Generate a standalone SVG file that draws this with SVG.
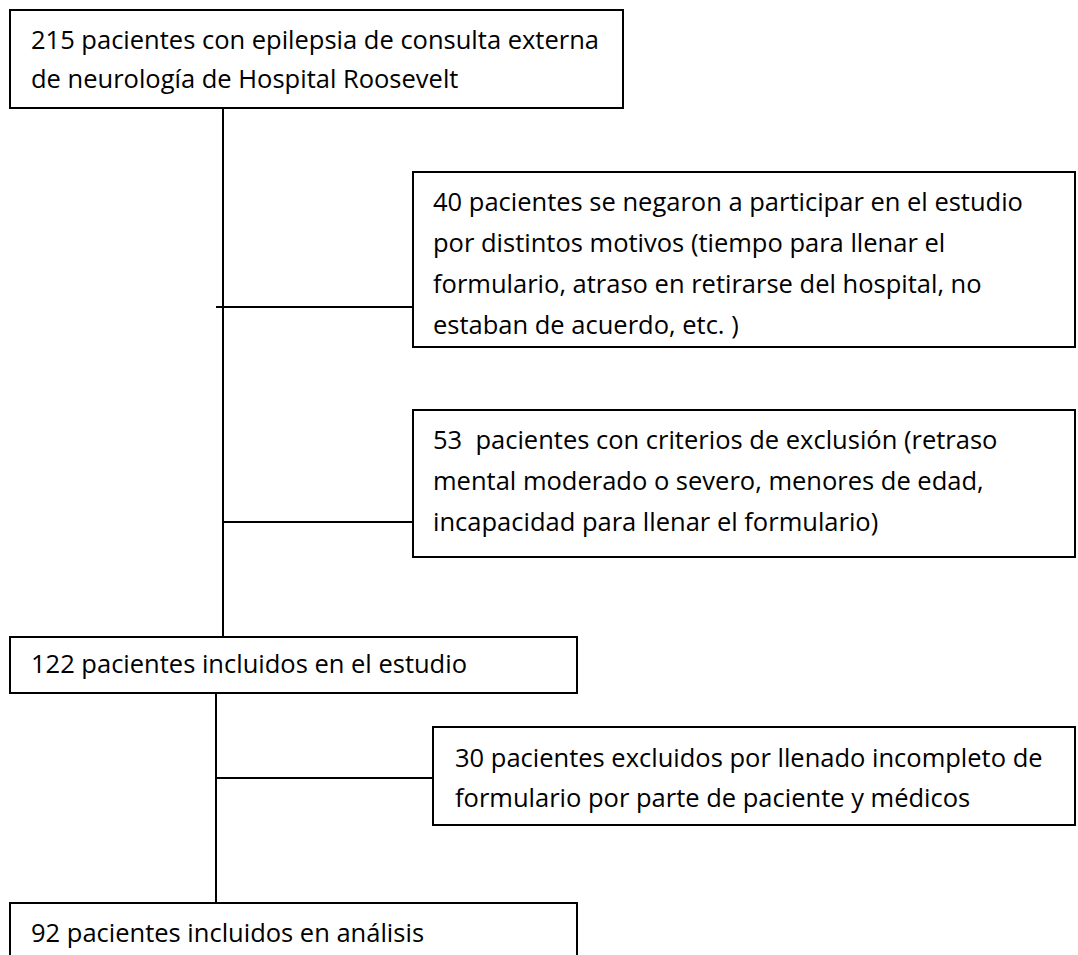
<svg xmlns="http://www.w3.org/2000/svg" width="1078" height="955" viewBox="0 0 1078 955">
<style>
.box{fill:#fff;stroke:#000;stroke-width:2}
.t{font-family:"Open Sans","Noto Sans","Liberation Sans",sans-serif;font-size:25.5px;fill:#000}
.c{stroke:#000;stroke-width:2;fill:none}
</style>
<rect width="1078" height="955" fill="#fff"/>
<g id="connectors">
<line class="c" x1="223" y1="108" x2="223" y2="637"/>
<line class="c" x1="216" y1="307" x2="413" y2="307"/>
<line class="c" x1="223" y1="522" x2="413" y2="522"/>
<line class="c" x1="216" y1="693" x2="216" y2="903"/>
<line class="c" x1="216" y1="778" x2="433" y2="778"/>
</g>
<g id="n215">
<rect class="box" x="10" y="10" width="613" height="98"/>
<text class="t" x="31" y="49">215 pacientes con epilepsia de consulta externa</text>
<text class="t" x="31" y="88">de neurología de Hospital Roosevelt</text>
</g>
<g id="n40">
<rect class="box" x="413" y="172" width="662" height="175"/>
<text class="t" x="433" y="211">40 pacientes se negaron a participar en el estudio</text>
<text class="t" x="433" y="252">por distintos motivos (tiempo para llenar el</text>
<text class="t" x="433" y="293">formulario, atraso en retirarse del hospital, no</text>
<text class="t" x="433" y="334">estaban de acuerdo, etc. )</text>
</g>
<g id="n53">
<rect class="box" x="413" y="410" width="662" height="147"/>
<text class="t" x="433" y="449" xml:space="preserve">53  pacientes con criterios de exclusión (retraso</text>
<text class="t" x="433" y="490">mental moderado o severo, menores de edad,</text>
<text class="t" x="433" y="531">incapacidad para llenar el formulario)</text>
</g>
<g id="n122">
<rect class="box" x="10" y="637" width="567" height="56"/>
<text class="t" x="31" y="673">122 pacientes incluidos en el estudio</text>
</g>
<g id="n30">
<rect class="box" x="433" y="727" width="642" height="98"/>
<text class="t" x="455" y="767">30 pacientes excluidos por llenado incompleto de</text>
<text class="t" x="455" y="807">formulario por parte de paciente y médicos</text>
</g>
<g id="n92">
<rect class="box" x="10" y="903" width="567" height="70"/>
<text class="t" x="31" y="942">92 pacientes incluidos en análisis</text>
</g>
</svg>
